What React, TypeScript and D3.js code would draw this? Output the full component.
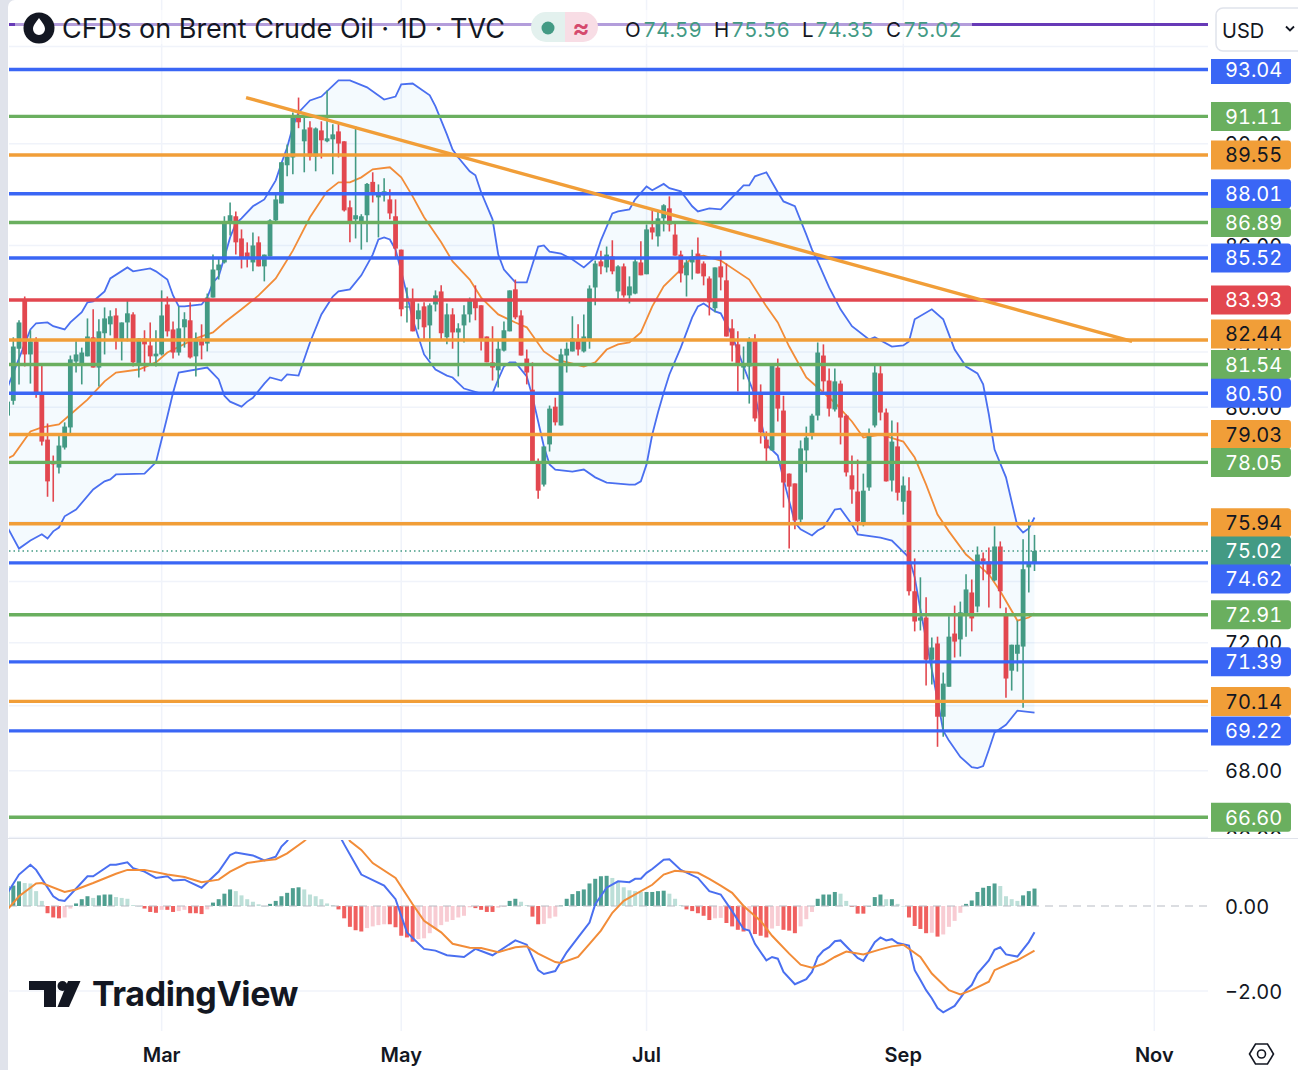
import React from "react";
import * as d3 from "d3";

// daily candles, Brent CFD (bar 0 is cut off by the left edge)
const opens = [
  79.70,80.23,82.12,83.95,81.91,82.39,80.52,78.85,78.08,77.87,
  78.57,79.28,81.65,81.54,81.84,82.54,81.43,82.69,83.02,83.35,
  82.42,83.09,83.39,81.54,82.50,82.24,81.84,81.91,83.76,82.83,
  81.98,82.91,83.17,81.84,82.42,82.31,84.02,85.05,85.35,86.85,
  87.13,86.27,85.73,85.35,86.12,85.20,85.58,86.97,87.63,89.14,
  89.45,91.11,90.10,90.66,89.49,90.54,90.10,90.18,90.50,90.10,
  87.48,87.01,86.93,87.17,88.48,87.87,87.95,87.79,87.13,85.84,
  83.65,83.95,83.21,83.69,82.98,83.76,84.25,82.54,83.39,82.72,
  82.98,83.39,83.95,83.73,82.57,81.62,81.33,82.05,82.76,84.33,
  83.35,81.76,80.63,78.08,77.28,78.68,80.02,79.35,81.87,82.02,
  82.42,82.02,82.42,84.40,85.39,85.16,85.58,84.25,85.20,84.10,
  84.17,85.35,84.90,86.70,86.35,87.05,87.44,86.42,85.65,84.86,
  85.35,85.69,85.31,84.74,83.62,85.20,84.67,82.87,82.28,81.43,
  81.47,82.46,80.52,78.85,78.47,81.43,79.88,77.66,77.32,76.08,
  78.47,79.03,79.70,81.87,80.96,79.92,80.85,79.70,77.60,77.04,
  75.98,77.18,79.35,81.22,79.81,77.42,78.61,76.69,77.07,73.68,
  72.72,72.82,71.46,71.98,69.66,70.60,72.30,72.11,72.92,73.64,
  73.18,74.77,74.67,74.04,75.17,72.89,71.11,71.65,71.88,74.47,
  74.59,
];
const highs = [
  80.20,82.54,83.17,84.06,82.80,82.54,81.51,79.42,78.29,79.03,
  79.46,81.87,82.39,82.16,83.24,83.58,83.21,83.65,83.54,83.62,
  83.09,83.91,83.47,82.50,82.80,83.09,82.80,84.29,84.06,83.13,
  83.69,83.47,83.84,82.72,83.02,84.17,85.65,85.54,87.13,87.67,
  87.32,86.62,86.12,86.50,86.35,85.65,87.01,87.99,89.26,89.97,
  91.27,91.88,91.07,90.91,90.66,90.91,92.17,90.79,90.83,90.10,
  87.75,90.70,87.21,88.44,88.86,88.38,88.62,88.19,87.79,85.84,
  84.40,84.36,83.80,83.84,83.80,84.29,84.48,83.80,83.62,83.06,
  83.73,84.02,84.48,83.73,82.57,82.95,82.42,83.13,84.29,84.70,
  83.54,82.09,81.62,78.19,78.61,80.06,80.34,82.12,82.35,83.32,
  83.02,83.39,84.48,85.42,85.80,85.96,86.20,85.24,85.31,84.82,
  85.54,86.16,86.81,87.44,87.32,87.60,87.91,86.89,85.80,85.46,
  85.84,86.31,85.39,84.82,85.16,85.80,85.31,83.21,82.76,82.20,
  82.54,82.65,80.82,79.14,81.58,81.76,80.41,77.66,77.32,78.82,
  79.31,79.77,82.35,82.28,81.40,81.40,80.96,79.74,78.29,78.15,
  77.66,79.24,81.54,81.58,79.95,79.53,79.46,77.56,77.53,74.77,
  74.14,73.48,72.17,72.20,71.05,72.86,73.21,73.34,74.24,74.07,
  75.17,74.97,75.14,75.85,75.34,73.15,71.94,72.72,75.41,76.08,
  75.56,
];
const lows = [
  79.70,80.09,80.82,81.47,80.85,80.34,78.64,76.86,76.69,77.66,
  78.50,79.07,81.25,80.82,81.84,81.43,80.74,81.91,82.61,82.09,
  81.69,82.39,81.47,81.07,81.29,81.58,81.47,81.87,82.57,81.76,
  81.87,82.16,81.76,81.11,81.73,82.02,84.02,84.70,85.31,86.38,
  85.65,85.12,85.16,85.01,85.20,84.63,85.58,86.85,87.63,88.70,
  88.78,90.63,88.86,89.33,88.90,89.41,90.06,88.78,89.45,87.32,
  86.12,86.27,85.84,86.12,87.67,86.31,87.71,87.01,85.54,83.32,
  83.09,82.76,82.83,82.46,81.73,83.50,82.46,82.28,82.12,81.11,
  82.35,83.09,83.17,82.05,81.62,80.96,80.71,82.02,82.76,83.21,
  81.87,80.82,78.08,76.79,77.21,78.43,79.35,79.35,81.25,82.02,
  81.87,81.98,82.12,83.73,84.90,84.97,84.90,83.95,84.02,83.80,
  84.14,84.86,84.90,86.23,85.96,86.54,86.54,85.61,84.59,84.06,
  84.70,84.93,84.48,83.35,83.47,84.29,82.57,81.65,80.56,81.00,
  80.13,79.49,78.71,78.01,78.47,79.49,76.49,75.10,75.75,75.98,
  77.70,78.85,79.53,80.56,79.67,79.85,78.68,77.56,76.62,75.68,
  75.85,77.07,79.28,79.53,77.39,77.04,76.73,76.25,73.54,72.37,
  72.40,70.64,70.67,68.73,69.04,70.60,71.53,71.56,72.20,72.37,
  72.99,74.04,73.15,74.01,73.12,70.25,70.48,71.08,69.94,73.64,
  74.35,
];
const closes = [
  80.20,82.20,83.09,81.91,82.39,80.45,78.78,77.39,77.98,78.64,
  79.31,81.73,81.91,81.98,82.57,81.43,82.76,83.24,83.32,82.46,
  83.09,83.43,81.62,82.50,82.28,81.84,81.94,83.35,82.76,81.98,
  82.87,83.21,81.80,82.42,82.24,84.02,85.08,85.27,86.89,87.17,
  86.12,85.54,85.54,86.00,85.20,85.65,86.97,87.79,89.26,89.49,
  91.11,90.87,90.58,89.49,90.62,90.14,90.22,90.38,90.01,87.36,
  86.89,87.17,87.13,88.40,88.07,88.07,88.11,87.24,85.88,83.58,
  83.69,82.76,83.54,82.91,83.73,84.10,82.69,83.39,82.72,82.87,
  83.39,83.91,83.62,82.46,81.62,81.43,82.12,82.80,84.29,83.28,
  81.87,81.25,78.08,77.07,78.61,79.95,79.46,81.91,82.12,82.50,
  82.09,82.57,84.36,85.31,85.20,85.65,85.01,85.20,84.10,84.44,
  85.39,84.86,86.62,86.50,87.05,87.56,86.81,85.61,84.93,85.35,
  85.58,84.93,84.82,83.84,85.16,84.78,82.57,82.24,81.51,81.54,
  82.46,79.60,79.10,78.54,81.54,79.95,77.35,77.21,76.05,78.54,
  78.92,79.70,81.98,80.93,79.95,80.93,79.63,77.70,77.11,76.02,
  77.07,79.07,81.25,79.81,77.39,78.78,77.00,77.25,73.68,72.69,
  72.82,71.46,71.85,69.66,70.70,72.20,72.04,72.99,73.74,72.79,
  74.90,74.67,74.24,75.17,73.68,70.86,71.94,71.94,74.41,74.64,
  75.02,
];

// bollinger bands, read at the bars where the line visibly turns
const upperBars = [0,4,5,7,8,10,11,13,14,15,17,18,21,22,25,26,28,29,30,31,34,35,36,37,38,39,40,41,43,45,47,48,49,50,51,53,55,58,60,63,66,68,69,71,74,75,77,78,79,81,82,83,85,86,87,89,91,93,94,95,97,99,101,103,104,106,107,109,110,112,113,115,116,118,120,121,123,125,126,127,129,130,131,133,135,136,138,140,141,142,144,146,148,151,152,155,157,158,159,162,164,165,166,168,170,171,172,173,175,177,178,179,180];
const upperBand = [80.71,82.83,83.06,83.09,82.95,82.83,83.09,83.47,83.84,83.88,84.25,84.74,85.16,85.01,85.12,85.01,84.70,84.10,83.69,83.69,83.76,84.02,84.59,84.82,85.54,86.31,86.85,87.05,87.52,87.79,88.54,89.22,89.85,90.70,91.27,91.76,91.92,92.59,92.59,92.30,91.80,91.92,92.42,92.46,91.97,91.52,90.38,89.77,89.45,88.90,88.74,88.07,87.01,85.65,85.08,84.59,84.59,85.96,86.00,85.76,85.69,85.46,85.16,85.54,86.20,87.24,87.32,87.40,87.79,88.30,88.15,88.40,88.23,88.11,87.52,87.32,87.44,87.40,87.63,87.87,88.34,88.34,88.70,88.86,88.07,87.71,87.52,86.42,85.84,85.39,84.40,83.58,82.95,82.46,82.54,82.20,82.24,82.39,83.21,83.58,83.21,82.65,82.09,81.47,81.22,80.82,79.74,78.50,77.53,75.86,75.64,75.78,76.15];
const lowerBars = [0,2,4,6,7,8,9,10,12,15,17,18,19,24,26,27,28,29,30,35,37,38,39,41,42,43,45,46,48,49,51,53,55,57,58,60,62,64,65,66,67,68,69,70,71,73,75,77,78,80,83,85,86,87,88,89,91,92,93,94,95,96,99,101,103,105,109,110,111,112,113,114,115,116,118,120,121,122,124,125,126,127,129,131,133,135,136,138,139,141,142,143,145,146,148,149,153,155,158,159,160,161,162,163,164,165,167,169,170,171,172,173,175,177,180];
const lowerBand = [75.81,75.10,75.37,75.58,75.44,75.68,75.81,76.19,76.42,77.11,77.39,77.46,77.63,77.66,78.05,78.85,79.67,80.52,81.25,81.43,81.00,80.41,80.20,80.02,80.20,80.34,80.85,81.07,80.96,81.18,81.14,82.35,83.39,84.06,84.25,84.33,84.86,85.65,86.23,86.31,86.23,85.84,85.01,84.14,83.21,81.91,81.36,81.14,81.07,80.67,80.49,80.49,81.00,81.47,81.62,81.62,81.11,80.38,79.49,78.61,77.98,77.80,77.73,77.80,77.53,77.35,77.28,77.28,77.39,77.98,79.03,79.81,80.52,81.18,82.16,83.28,83.69,83.80,83.50,83.43,83.02,82.61,81.47,80.41,78.68,78.29,77.46,75.98,75.75,75.54,75.71,75.81,76.42,76.45,75.91,75.58,75.47,75.37,74.80,74.14,73.08,72.11,71.14,70.19,69.23,68.92,68.42,68.11,68.08,68.14,68.64,69.17,69.41,69.85,69.79];
const basisBars = [0,1,4,6,9,11,14,17,19,23,26,28,33,36,38,41,44,47,50,53,56,58,60,62,64,67,69,71,73,76,78,81,83,86,89,91,94,96,101,103,105,107,109,111,113,115,118,120,122,125,130,133,135,137,140,142,145,148,150,153,157,159,161,163,165,168,170,172,174,177,179,180];
const basisBand = [78.19,78.29,79.14,79.28,79.39,79.74,80.27,80.93,81.25,81.36,81.62,81.98,82.50,82.72,83.09,83.58,84.10,84.74,85.80,87.09,88.11,88.46,88.46,88.66,88.98,89.06,88.66,87.91,87.09,86.12,85.39,84.70,84.02,83.39,83.09,82.91,82.02,81.73,81.47,81.62,82.09,82.28,82.35,82.72,83.69,84.44,85.08,85.54,85.61,85.42,84.70,83.69,83.09,82.20,81.07,80.71,80.16,79.49,78.92,79.03,78.78,78.22,77.28,76.25,75.68,74.90,74.57,74.24,73.68,72.72,72.82,72.96];

// MACD pane
const macdBars = [0,2,4,5,8,9,10,14,15,18,19,21,22,24,26,28,29,31,34,37,39,40,43,45,47,48,49,52,55,58,59,62,66,68,70,73,75,77,80,82,85,89,91,93,94,96,98,100,102,103,105,107,109,110,111,112,113,115,116,118,121,123,125,127,129,130,131,133,134,135,136,138,140,141,142,143,144,145,146,149,150,152,153,154,155,156,158,159,160,161,162,163,164,166,168,169,170,172,173,174,175,177,179,180];
const macdLine = [0.31,0.74,0.97,0.85,0.23,0.14,0.12,0.70,0.70,0.97,0.97,1.03,0.89,0.81,0.66,0.70,0.60,0.62,0.43,0.81,1.20,1.26,1.19,1.07,1.16,1.40,1.53,2.20,2.35,1.70,1.45,0.74,0.48,0.16,-0.62,-1.01,-1.05,-1.16,-1.20,-1.01,-1.16,-0.81,-0.91,-1.51,-1.60,-1.53,-1.09,-0.74,-0.39,0.04,0.43,0.58,0.56,0.64,0.64,0.78,0.87,1.09,1.10,0.85,0.66,0.35,0.27,-0.12,-0.54,-0.58,-0.89,-1.28,-1.20,-1.24,-1.55,-1.84,-1.72,-1.55,-1.20,-1.05,-0.97,-0.83,-0.81,-1.22,-1.29,-0.85,-0.74,-0.81,-0.78,-0.87,-0.93,-1.51,-1.74,-1.98,-2.17,-2.40,-2.50,-2.35,-1.98,-1.86,-1.59,-1.28,-1.03,-0.97,-1.14,-1.19,-0.85,-0.62];
const signalBars = [0,2,5,6,10,12,15,19,21,24,28,31,34,37,39,42,45,47,49,52,55,58,60,62,64,68,71,73,76,78,81,83,86,89,91,93,96,97,100,102,104,106,108,113,115,117,121,123,125,127,129,132,134,135,137,139,141,143,145,147,150,153,155,157,160,162,165,167,169,172,173,176,177,180];
const signalLine = [-0.08,0.23,0.53,0.54,0.33,0.39,0.54,0.76,0.85,0.85,0.74,0.68,0.56,0.62,0.81,1.01,1.07,1.10,1.24,1.53,1.90,2.05,1.53,1.32,1.01,0.66,0.04,-0.35,-0.62,-0.89,-0.98,-0.99,-1.09,-0.97,-0.95,-1.12,-1.32,-1.34,-1.20,-0.89,-0.58,-0.16,0.12,0.50,0.74,0.83,0.78,0.64,0.48,0.31,0,-0.35,-0.70,-0.84,-1.12,-1.38,-1.45,-1.36,-1.20,-1.07,-1.14,-1.02,-0.95,-0.91,-1.20,-1.59,-1.98,-2.08,-1.98,-1.78,-1.51,-1.33,-1.28,-1.05];
const histogram = [
  0.47,0.48,0.58,0.54,0.53,0.35,0.12,-0.17,-0.27,-0.29,
  -0.27,-0.06,0.06,0.16,0.23,0.19,0.25,0.27,0.27,0.21,
  0.19,0.17,0.02,0,-0.06,-0.14,-0.16,-0.09,-0.09,-0.14,
  -0.12,-0.09,-0.17,-0.17,-0.19,-0.08,0.08,0.16,0.29,0.39,
  0.35,0.25,0.16,0.10,0.04,0,0.05,0.12,0.23,0.31,
  0.42,0.44,0.39,0.27,0.23,0.16,0.06,0.02,-0.08,-0.29,
  -0.49,-0.57,-0.60,-0.52,-0.48,-0.45,-0.43,-0.43,-0.50,-0.70,
  -0.74,-0.84,-0.78,-0.76,-0.64,-0.54,-0.45,-0.37,-0.33,-0.27,
  -0.23,-0.03,-0.05,-0.09,-0.14,-0.14,-0.04,-0.02,0.12,0.17,
  0.10,0.02,-0.25,-0.43,-0.42,-0.29,-0.25,0.01,0.17,0.28,
  0.35,0.39,0.53,0.64,0.70,0.71,0.66,0.56,0.44,0.37,
  0.35,0.33,0.33,0.33,0.35,0.36,0.29,0.17,0.02,-0.08,
  -0.12,-0.17,-0.23,-0.33,-0.29,-0.28,-0.40,-0.48,-0.56,-0.60,
  -0.58,-0.66,-0.70,-0.74,-0.53,-0.47,-0.56,-0.58,-0.64,-0.48,
  -0.31,-0.14,0.17,0.27,0.27,0.33,0.29,0.12,-0.02,-0.18,
  -0.18,0,0.21,0.27,0.16,0.16,0.05,0,-0.27,-0.47,
  -0.54,-0.64,-0.63,-0.72,-0.67,-0.49,-0.35,-0.16,0.05,0.13,
  0.33,0.43,0.47,0.53,0.47,0.23,0.16,0.12,0.25,0.35,
  0.41,
];

// horizontal levels drawn on the chart
const blueLevels = [93.04, 88.01, 85.52, 80.5, 74.62, 71.39, 69.22];
const greenLevels = [91.11, 86.89, 81.54, 78.05, 72.91, 66.6];
const orangeLevels = [89.55, 82.44, 79.03, 75.94, 70.14];
const redLevels = [83.93];
const lastPrice = 75.02;
const trendBars = [41.8, 197.1];
const trendPrices = [91.88, 82.39];

const priceTicks = [94, 90, 86, 82, 80, 78, 76, 74, 72, 70, 68, 66];
const macdTicks = [0, -2];
const monthBars = [27, 69, 112, 157, 201];
const monthNames = ["Mar", "May", "Jul", "Sep", "Nov"];

const legendKeys = ["O", "H", "L", "C"];
const legendValues = ["74.59", "75.56", "74.35", "75.02"];

const COLORS = {
  up: "#439a84",
  down: "#e2474f",
  blue: "#3a66f5",
  green: "#6aaf5f",
  orange: "#f19e38",
  red: "#e2474f",
  band: "#4a6ff0",
  basis: "#f28c38",
  text: "#131722",
  grid: "#f0f3fa",
  border: "#e0e3eb",
};
const FONT = "Inter, 'Noto Sans', sans-serif";
const TNUM = { fontVariantNumeric: "tabular-nums", fontFeatureSettings: '"tnum"' };

const x = d3.scaleLinear().domain([0, 180]).range([7.6, 1034.5]);
const y = d3.scaleLog().domain([93.04, 66.6]).range([69.5, 817.2]);
const yMacd = d3.scaleLinear().domain([0, -2]).range([906, 991]);

const bandLine = (bars: number[], vals: number[], scale: (v: number) => number) =>
  d3.line<number>().x((b) => x(b)).y((_, i) => scale(vals[i]))(bars) as string;

// label boxes overlap otherwise, same push as the screenshot
const labelNudge: Record<string, number> = { "82.44": -6, "74.62": 16, "75.94": -1 };

function PriceLabel({ price, fill, ink }: { price: number; fill: string; ink: string }) {
  const text = price.toFixed(2);
  const cy = y(price) + (labelNudge[text] || 0);
  return (
    <g>
      <path
        d={`M1211 ${cy - 14.5}H1288a3 3 0 0 1 3 3V${cy + 11.5}a3 3 0 0 1 -3 3H1211Z`}
        fill={fill}
      />
      <text x={1225} y={cy + 7.4} fontSize={20} fill={ink} fontFamily={FONT} style={TNUM}>
        {text}
      </text>
    </g>
  );
}

export default function App() {
  const upperPts = upperBars.map((b, i) => [x(b), y(upperBand[i])] as [number, number]);
  const lowerPts = lowerBars.map((b, i) => [x(b), y(lowerBand[i])] as [number, number]);
  const fillPath = d3.line()([...upperPts, ...lowerPts.slice().reverse()]) + "Z";

  const levelGroups = [
    { prices: blueLevels, color: COLORS.blue, ink: "#fff" },
    { prices: greenLevels, color: COLORS.green, ink: "#fff" },
    { prices: orangeLevels, color: COLORS.orange, ink: COLORS.text },
    { prices: redLevels, color: COLORS.red, ink: "#fff" },
  ];
  const labels = levelGroups
    .flatMap((g) => g.prices.map((p) => ({ p, fill: g.color, ink: g.ink })))
    .concat([{ p: lastPrice, fill: COLORS.up, ink: "#fff" }])
    .sort((a, b) => b.p - a.p);

  const histColor = (v: number, i: number) => {
    const prev = i > 0 ? histogram[i - 1] : v;
    if (v >= 0) return v >= prev ? "#4f9f90" : "#bcdfd8";
    return v <= prev ? "#f0605f" : "#f8ccd3";
  };

  return (
    <svg
      width={1298}
      height={1070}
      style={{ position: "absolute", left: 0, top: 0, background: "#fff" }}
      fontFamily={FONT}
    >
      <defs>
        <clipPath id="pricePane">
          <rect x={9} y={0} width={1199} height={838} />
        </clipPath>
        <clipPath id="macdPane">
          <rect x={9} y={840} width={1199} height={190} />
        </clipPath>
      </defs>

      <rect x={0} y={0} width={8} height={1070} fill={COLORS.border} />
      <path d="M8 0H15A7 7 0 0 0 8 7Z" fill={COLORS.border} />

      {/* grid */}
      {monthBars.map((b) => (
        <line key={b} x1={x(b)} x2={x(b)} y1={0} y2={1031} stroke={COLORS.grid} strokeWidth={1.5} />
      ))}
      {priceTicks.map((t) => (
        <line key={t} x1={9} x2={1208} y1={y(t)} y2={y(t)} stroke={COLORS.grid} strokeWidth={1.5} />
      ))}
      <line x1={9} x2={1208} y1={yMacd(-2)} y2={yMacd(-2)} stroke={COLORS.grid} strokeWidth={1.5} />

      {/* tick labels sit under the level labels */}
      {priceTicks.map((t) => (
        <text key={t} x={1225} y={y(t) + 7.4} fontSize={20} fill={COLORS.text} style={TNUM}>
          {t.toFixed(2)}
        </text>
      ))}

      <g clipPath="url(#pricePane)">
        <path d={fillPath} fill="#2196f3" fillOpacity={0.05} />
        <path d={bandLine(upperBars, upperBand, y)} fill="none" stroke={COLORS.band} strokeWidth={1.8} />
        <path d={bandLine(lowerBars, lowerBand, y)} fill="none" stroke={COLORS.band} strokeWidth={1.8} />
        <path d={bandLine(basisBars, basisBand, y)} fill="none" stroke={COLORS.basis} strokeWidth={1.8} />

        {closes.map((c, i) => {
          const color = c >= opens[i] ? COLORS.up : COLORS.down;
          const top = y(Math.max(c, opens[i]));
          const bottom = y(Math.min(c, opens[i]));
          return (
            <g key={i}>
              <line x1={x(i)} x2={x(i)} y1={y(highs[i])} y2={y(lows[i])} stroke={color} strokeWidth={1.6} />
              <rect x={x(i) - 2.4} y={top} width={4.8} height={Math.max(bottom - top, 1.2)} fill={color} />
            </g>
          );
        })}

        <line
          x1={9}
          x2={1208}
          y1={y(lastPrice)}
          y2={y(lastPrice)}
          stroke={COLORS.up}
          strokeWidth={1.5}
          strokeDasharray="1.5 3"
        />
        {levelGroups.map((g) =>
          g.prices.map((p) => (
            <line key={p} x1={9} x2={1208} y1={y(p)} y2={y(p)} stroke={g.color} strokeWidth={3.4} />
          ))
        )}
        <line
          x1={x(trendBars[0])}
          x2={x(trendBars[1])}
          y1={y(trendPrices[0])}
          y2={y(trendPrices[1])}
          stroke={COLORS.orange}
          strokeWidth={3.4}
        />
      </g>

      {/* macd pane, the white block also cuts off the 66.00 tick */}
      <rect x={1209} y={834} width={89} height={44} fill="#fff" />
      <line x1={8} x2={1298} y1={838.5} y2={838.5} stroke={COLORS.border} strokeWidth={1} />
      <g clipPath="url(#macdPane)">
        {histogram.map((v, i) => {
          const top = Math.min(yMacd(v), yMacd(0));
          return (
            <rect
              key={i}
              x={x(i) - 2}
              y={top}
              width={4}
              height={Math.max(Math.abs(yMacd(v) - yMacd(0)), 0.5)}
              fill={histColor(v, i)}
            />
          );
        })}
        <line
          x1={9}
          x2={1208}
          y1={yMacd(0)}
          y2={yMacd(0)}
          stroke="#b8bcc4"
          strokeWidth={1.2}
          strokeDasharray="8 6"
        />
        <path d={bandLine(macdBars, macdLine, yMacd)} fill="none" stroke={COLORS.band} strokeWidth={2} />
        <path d={bandLine(signalBars, signalLine, yMacd)} fill="none" stroke={COLORS.basis} strokeWidth={2} />
      </g>
      {macdTicks.map((t) => (
        <text key={t} x={1225} y={yMacd(t) + 7.8} fontSize={20} fill={COLORS.text} style={TNUM}>
          {t < 0 ? "\u2212" + Math.abs(t).toFixed(2) : t.toFixed(2)}
        </text>
      ))}

      {/* level labels */}
      {labels.map((l) => (
        <PriceLabel key={l.p} price={l.p} fill={l.fill} ink={l.ink} />
      ))}
      <rect x={1209} y={0} width={89} height={59} fill="#fff" />

      {/* month axis */}
      {monthBars.map((b, i) => (
        <text
          key={b}
          x={x(b)}
          y={1062}
          textAnchor="middle"
          fontSize={20}
          fontWeight={600}
          fill={COLORS.text}
        >
          {monthNames[i]}
        </text>
      ))}
      <path d="M1249.5 1054l6 -10h12l6 10l-6 10h-12Z" fill="none" stroke={COLORS.text} strokeWidth={1.6} />
      <circle cx={1261.5} cy={1054} r={4} fill="none" stroke={COLORS.text} strokeWidth={1.6} />

      {/* header strip */}
      <line x1={9} x2={1208} y1={24.5} y2={24.5} stroke="#673ab7" strokeWidth={3} />
      <rect x={15} y={10} width={957} height={34} fill="#fff" fillOpacity={0.5} />
      <circle cx={39} cy={28} r={15.5} fill="#131722" />
      <path d="M39 18c3.5 5 6 7.6 6 11a6 6 0 0 1 -12 0c0 -3.4 2.5 -6 6 -11Z" fill="#fff" />
      <text x={62} y={38} fontSize={27} fill={COLORS.text}>
        CFDs on Brent Crude Oil · 1D · TVC
      </text>
      <path d="M565 12H546a15 15 0 0 0 0 30H565Z" fill="#e3f1ee" />
      <path d="M565 12H583a15 15 0 0 1 0 30H565Z" fill="#f8dde5" />
      <circle cx={548} cy={28} r={6.5} fill={COLORS.up} />
      <text x={581} y={37} textAnchor="middle" fontSize={26} fontWeight={600} fill="#d5496d">
        ≈
      </text>
      {legendKeys.map((k, i) => (
        <g key={k}>
          <text x={[625, 714, 802, 886][i]} y={37} fontSize={20.5} fill={COLORS.text}>
            {k}
          </text>
          <text x={[643, 731, 815, 903][i]} y={37} fontSize={20.5} fill={COLORS.up} style={TNUM}>
            {legendValues[i]}
          </text>
        </g>
      ))}

      {/* currency button */}
      <rect x={1216} y={8} width={100} height={43} rx={7} fill="#fff" stroke={COLORS.border} strokeWidth={1.5} />
      <text x={1222} y={38} fontSize={20} fill={COLORS.text}>
        USD
      </text>
      <path d="M1286 26.5l4 4l4 -4" fill="none" stroke={COLORS.text} strokeWidth={1.8} />

      {/* watermark */}
      <path d="M29 981H56V1007H44V990H29Z" fill="#131722" />
      <circle cx={62.5} cy={986} r={5} fill="#131722" />
      <path d="M68 981H80.5L69 1007H57.5Z" fill="#131722" />
      <text x={92} y={1006} fontSize={34} fontWeight={700} fill="#131722" letterSpacing={-0.4}>
        TradingView
      </text>
    </svg>
  );
}
